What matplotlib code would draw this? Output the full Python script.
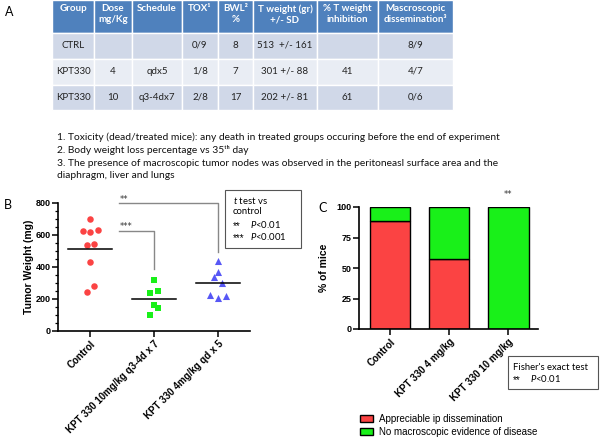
import matplotlib
matplotlib.use("Agg")
import matplotlib.pyplot as plt
from matplotlib.patches import Rectangle
from matplotlib.ticker import MultipleLocator

W, H = 600, 437

# ---- table data (panel A) ----
table_header = ["Group", "Dose\nmg/Kg", "Schedule", "TOX\u00b9", "BWL\u00b2\n%",
                "T weight (gr)\n+/- SD", "% T weight\ninhibition", "Mascroscopic\ndissemination\u00b3"]
table_rows = [
    ["CTRL", "", "", "0/9", "8", "513  +/- 161", "", "8/9"],
    ["KPT330", "4", "qdx5", "1/8", "7", "301 +/- 88", "41", "4/7"],
    ["KPT330", "10", "q3-4dx7", "2/8", "17", "202 +/- 81", "61", "0/6"],
]
footnotes = [
    "1. Toxicity (dead/treated mice): any death in treated groups occuring before the end of experiment",
    "2. Body weight loss percentage vs 35\u1d57\u02b0 day",
    "3. The presence of macroscopic tumor nodes was observed in the peritoneasl surface area and the",
    "diaphragm, liver and lungs",
]

# ---- panel B data (tumor weight, mg) ----
b_groups = ["Control", "KPT 330 10mg/kg q3-4d x 7", "KPT 330 4mg/kg qd x 5"]
ctrl_w = [698, 627, 619, 630, 535, 542, 429, 281, 246]
ctrl_dx = [0.0, -0.11, 0.0, 0.12, -0.05, 0.06, 0.0, 0.06, -0.05]
kpt10_w = [320, 240, 250, 163, 142, 100]
kpt10_dx = [0.0, -0.06, 0.06, 0.0, 0.06, -0.06]
kpt4_w = [437, 367, 335, 298, 223, 208, 218]
kpt4_dx = [0.0, 0.0, -0.06, 0.06, -0.12, 0.0, 0.12]
b_means = [513, 202, 301]

# ---- panel C data (% of mice) ----
c_groups = ["Control", "KPT 330 4 mg/kg", "KPT 330 10 mg/kg"]
dissem = [8 / 9 * 100, 4 / 7 * 100, 0.0]
no_dis = [100 - v for v in dissem]

RED = "#fb4343"
GREEN = "#19f019"
BLUE = "#5757f5"

plt.rcParams["mathtext.fontset"] = "custom"
plt.rcParams["mathtext.it"] = "Lato:italic"
plt.rcParams["mathtext.rm"] = "Lato"

fig = plt.figure(figsize=(W / 100, H / 100), dpi=100)
fig.patch.set_facecolor("white")

sans = ["Lato", "DejaVu Sans"]
arial = ["Liberation Sans", "DejaVu Sans"]

# ---- panel B ----
axb = fig.add_axes([58 / W, 1 - 331 / H, 192 / W, 128 / H])
axb.patch.set_alpha(0)
axb.scatter([0 + d for d in ctrl_dx], ctrl_w, s=22, color=RED, marker="o", zorder=3, linewidths=0)
axb.scatter([1 + d for d in kpt10_dx], kpt10_w, s=22, color=GREEN, marker="s", zorder=3, linewidths=0)
axb.scatter([2 + d for d in kpt4_dx], kpt4_w, s=26, color=BLUE, marker="^", zorder=3, linewidths=0)
for i, m in enumerate(b_means):
    axb.plot([i - 0.34, i + 0.34], [m, m], color="black", linewidth=1.1, zorder=4)

# significance brackets
axb.plot([0.45, 1.0, 1.0], [627, 627, 385], color="#888888", linewidth=1.0, clip_on=False)
axb.plot([0.45, 2.0, 2.0], [797, 797, 494], color="#888888", linewidth=1.0, clip_on=False)
axb.text(0.47, 650, "***", fontsize=6, ha="left", va="center", color="#333333")
axb.text(0.47, 822, "**", fontsize=6, ha="left", va="center", color="#333333")

axb.set_xlim(-0.5, 2.5)
axb.set_ylim(0, 800)
axb.set_yticks([0, 200, 400, 600, 800])
axb.yaxis.set_minor_locator(MultipleLocator(50))
axb.set_xticks(range(3))
axb.set_xticklabels(b_groups, rotation=45, ha="right", rotation_mode="anchor",
                    fontsize=7, fontweight="bold", family=arial)
for lab in axb.get_yticklabels():
    lab.set_fontweight("bold")
    lab.set_fontsize(6.5)
    lab.set_family(arial)
axb.set_ylabel("Tumor Weight (mg)", fontsize=7.5, fontweight="bold", family=arial, labelpad=1)
axb.spines["top"].set_visible(False)
axb.spines["right"].set_visible(False)
for s in ("left", "bottom"):
    axb.spines[s].set_linewidth(1.2)
axb.tick_params(axis="both", which="major", length=4, width=1.1, pad=1.5)
axb.tick_params(axis="y", which="minor", length=2, width=0.9)

# ---- panel C ----
axc = fig.add_axes([359 / W, 1 - 329 / H, 179 / W, 122 / H])
axc.patch.set_alpha(0)
xs = range(3)
axc.bar(xs, dissem, width=0.68, color=RED, edgecolor="black", linewidth=1.0,
        label="Appreciable ip dissemination")
axc.bar(xs, no_dis, bottom=dissem, width=0.68, color=GREEN, edgecolor="black", linewidth=1.0,
        label="No macroscopic evidence of disease")
axc.text(2, 110, "**", fontsize=6, ha="center", va="center", color="#333333")
axc.set_xlim(-0.53, 2.5)
axc.set_ylim(0, 100)
axc.set_yticks([0, 25, 50, 75, 100])
axc.set_xticks(list(xs))
axc.set_xticklabels(c_groups, rotation=45, ha="right", rotation_mode="anchor",
                    fontsize=7, fontweight="bold", family=arial)
for lab in axc.get_yticklabels():
    lab.set_fontweight("bold")
    lab.set_fontsize(6.5)
    lab.set_family(arial)
axc.set_ylabel("% of mice", fontsize=7.5, fontweight="bold", family=arial, labelpad=5)
axc.spines["top"].set_visible(False)
axc.spines["right"].set_visible(False)
for s in ("left", "bottom"):
    axc.spines[s].set_linewidth(1.2)
axc.tick_params(axis="both", which="major", length=4, width=1.1, pad=1.5)

handles, labels = axc.get_legend_handles_labels()
fig.legend(handles, labels, loc="upper left", bbox_to_anchor=(355 / W, 1 - 409 / H),
           frameon=False, prop={"family": arial, "size": 7},
           handlelength=1.4, handleheight=0.8, labelspacing=0.3, borderpad=0, handletextpad=0.6)

# overlay in pixel coordinates for table and free text
ov = fig.add_axes([0, 0, 1, 1])
ov.set_zorder(10)
ov.set_xlim(0, W)
ov.set_ylim(H, 0)
ov.axis("off")

col_edges = [52, 94, 132, 182, 218, 253, 317, 378, 453]
row_edges = [0, 32.5, 58.5, 84.5, 110]
row_colors = ["#4f81bd", "#d0d8e8", "#e9edf4", "#d0d8e8"]

for r in range(4):
    for c in range(len(col_edges) - 1):
        x0, x1 = col_edges[c], col_edges[c + 1]
        y0, y1 = row_edges[r], row_edges[r + 1]
        ov.add_patch(Rectangle((x0, y0), x1 - x0, y1 - y0, facecolor=row_colors[r],
                               edgecolor="white", linewidth=1.0))
        xc = (x0 + x1) / 2
        if r == 0:
            ov.text(xc, 4, table_header[c], ha="center", va="top", color="white",
                    fontsize=7, fontweight="bold", family=sans, linespacing=1.25)
        else:
            ov.text(xc, (y0 + y1) / 2, table_rows[r - 1][c], ha="center", va="center",
                    color="#222222", fontsize=7, family=sans)

ov.text(5, 12, "A", fontsize=9, va="center", ha="left", family=sans)
for i, line in enumerate(footnotes):
    ov.text(57, 137 + i * 13, line, fontsize=7.4, va="center", ha="left",
            family=sans, color="#111111")

ov.text(4, 205, "B", fontsize=9, va="center", ha="left", family=sans)
ov.text(318, 208, "C", fontsize=9, va="center", ha="left", family=sans)

# t test box
ov.add_patch(Rectangle((225, 190), 76, 58, facecolor="white", edgecolor="#555555", linewidth=0.8))
ov.text(233, 200, "$t$ test vs", fontsize=6.8, va="center", family=sans)
ov.text(233, 212, "control", fontsize=6.8, va="center", family=sans)
ov.text(233, 226, "**", fontsize=7, va="center", family=arial)
ov.text(250, 225, "$P$<0.01", fontsize=6.8, va="center", family=sans)
ov.text(233, 238, "***", fontsize=7, va="center", family=arial)
ov.text(250, 237, "$P$<0.001", fontsize=6.8, va="center", family=sans)

# Fisher box
ov.add_patch(Rectangle((508, 356), 90, 33, facecolor="white", edgecolor="#555555", linewidth=0.8))
ov.text(513, 367, "Fisher's exact test", fontsize=6.8, va="center", family=sans)
ov.text(513, 380, "**", fontsize=7, va="center", family=arial)
ov.text(530, 379, "$P$<0.01", fontsize=6.8, va="center", family=sans)

fig.savefig("out.png", dpi=100)
